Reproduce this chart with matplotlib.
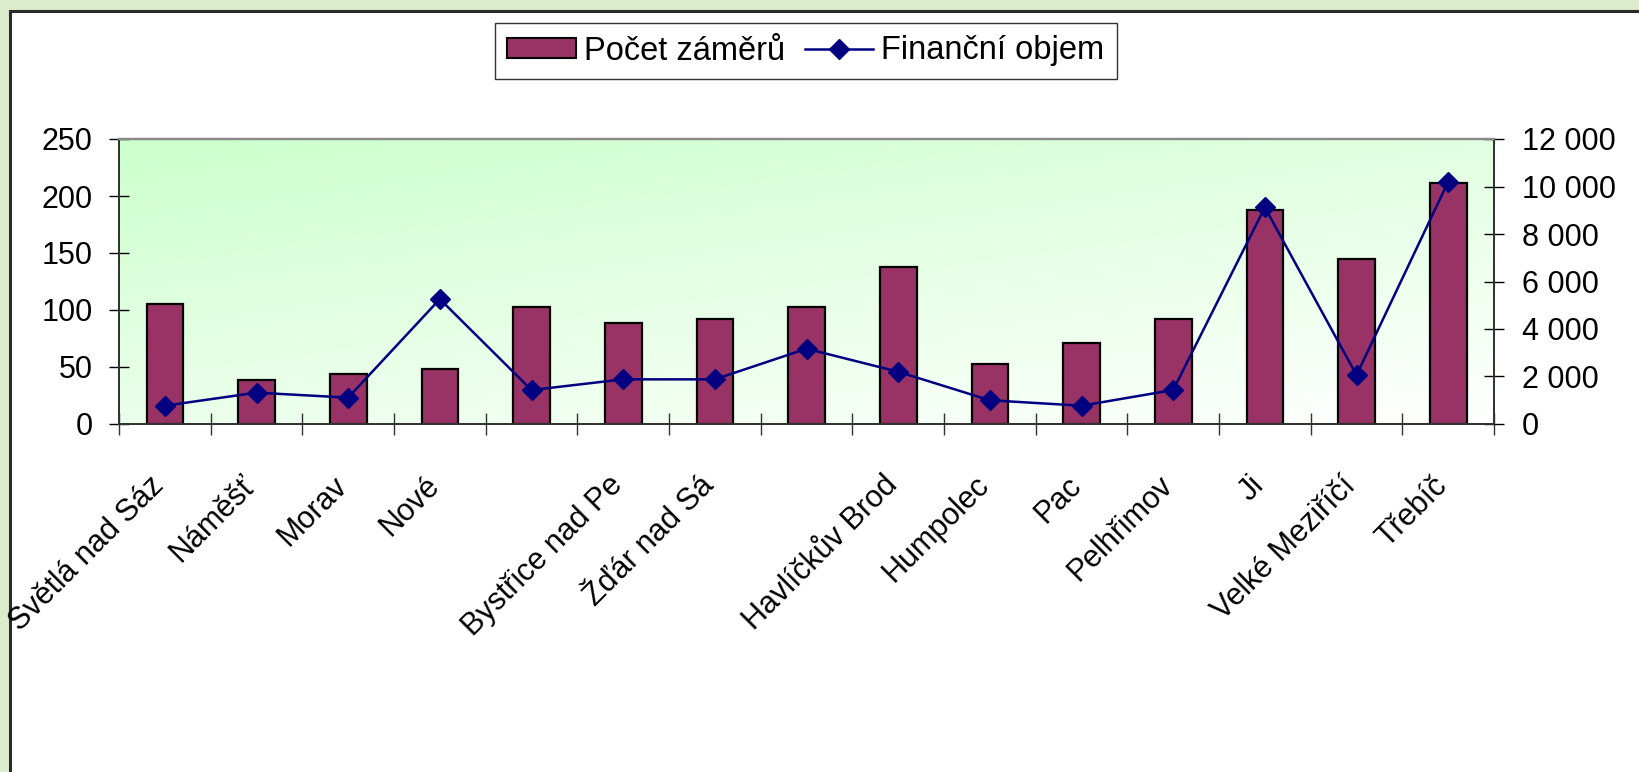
import matplotlib
matplotlib.use('Agg')
import matplotlib.pyplot as plt
import numpy as np
from matplotlib.patches import Rectangle
from matplotlib.lines import Line2D
from matplotlib.ticker import FuncFormatter
import matplotlib.transforms as mtransforms

plt.rcParams['font.family'] = ['Liberation Sans', 'DejaVu Sans']

# ---- data ----
categories = ["Světlá nad Sáz", "Náměšť", "Morav", "Nové", "", "Bystřice nad Pe",
              "Žďár nad Sá", "", "Havlíčkův Brod", "Humpolec", "Pac", "Pelhřimov",
              "Ji", "Velké Meziříčí", "Třebíč"]
pocet = [105, 39, 44, 48, 103, 89, 92, 103, 138, 53, 71, 92, 188, 145, 211]
objem = [770, 1320, 1110, 5260, 1430, 1880, 1880, 3170, 2200, 1000, 770, 1430, 9120, 2060, 10200]
left_ticks = [0, 50, 100, 150, 200, 250]
right_ticks = [0, 2000, 4000, 6000, 8000, 10000, 12000]
series_names = ["Počet záměrů", "Finanční objem"]

W, H = 1639, 772
fig = plt.figure(figsize=(W / 100, H / 100), dpi=100)
fig.patch.set_facecolor('#DCEBCB')
fig.patches.append(Rectangle((10 / W, -0.05), 1.2, 1 - 11 / H + 0.05,
                             transform=fig.transFigure, fc='white',
                             ec='#2b2b2b', lw=2.2, zorder=-10))

ax = fig.add_axes([119 / W, 1 - 424 / H, (1494 - 119) / W, (424 - 139) / H])
ax.set_facecolor('none')

# gradient plot area
nx, ny = 200, 100
gx, gy = np.meshgrid(np.linspace(0, 1, nx), np.linspace(0, 1, ny))
t = np.clip(0.6 * gy + 0.4 * (1 - gx), 0, 1)
c0 = np.array([1.0, 1.0, 1.0])
c1 = np.array([0.80, 1.0, 0.80])
img = c0[None, None, :] * (1 - t[..., None]) + c1[None, None, :] * t[..., None]
ax.imshow(img, extent=[0, 1, 0, 1], transform=ax.transAxes, aspect='auto',
          origin='lower', zorder=0, interpolation='bilinear')

x = np.arange(len(pocet))
ax.bar(x, pocet, width=0.4, color='#993366', edgecolor='black', lw=1.6, zorder=2)
ax.set_xlim(-0.5, len(pocet) - 0.5)
ax.set_ylim(0, 250)
ax.set_yticks(left_ticks)
ax.set_xticks(np.arange(-0.5, len(pocet), 1.0))
ax.set_xticklabels([])
ax.tick_params(axis='y', direction='inout', length=14, width=1, labelsize=22, pad=12, colors='black')
ax.tick_params(axis='x', direction='inout', length=16, width=1, color='#333333')

ax2 = ax.twinx()
ax2.plot(x, objem, color='#000080', lw=1.8, marker='D', ms=10, mfc='#000080',
         mec='#000080', zorder=3)
ax2.set_ylim(0, 12000)
ax2.set_yticks(right_ticks)
ax2.yaxis.set_major_formatter(FuncFormatter(lambda v, _: f"{int(v):,}".replace(",", " ")))
ax2.tick_params(axis='y', direction='inout', length=14, width=1, labelsize=22, pad=13, colors='black')

for a in (ax, ax2):
    a.spines['top'].set_color('#8a8a8a')
    a.spines['top'].set_linewidth(1.6)
    for s in ('left', 'right', 'bottom'):
        a.spines[s].set_color('#333333')
        a.spines[s].set_linewidth(1.3)

# category labels
trans = mtransforms.blended_transform_factory(ax.transData, ax.transAxes) + \
    mtransforms.ScaledTranslation(-5 / 100, 0, fig.dpi_scale_trans)
for i, lab in enumerate(categories):
    ax.text(i, -0.2, lab, transform=trans, rotation=45, rotation_mode='anchor',
            ha='right', va='center', fontsize=22, color='black')

# legend
handles = [Rectangle((0, 0), 1, 1, fc='#993366', ec='black', lw=1.5),
           Line2D([], [], color='#000080', lw=1.8, marker='D', ms=10,
                  mfc='#000080', mec='#000080')]
leg = fig.legend(handles, series_names, loc='center',
                 bbox_to_anchor=(806 / W, 1 - 51 / H), ncol=2, frameon=True,
                 fancybox=False, edgecolor='black', fontsize=23.5,
                 handlelength=2.1, handletextpad=0.25, columnspacing=0.6,
                 borderpad=0.38, handleheight=0.6)
leg.get_frame().set_linewidth(1.0)

fig.savefig('out.png', dpi=100, facecolor=fig.get_facecolor())
